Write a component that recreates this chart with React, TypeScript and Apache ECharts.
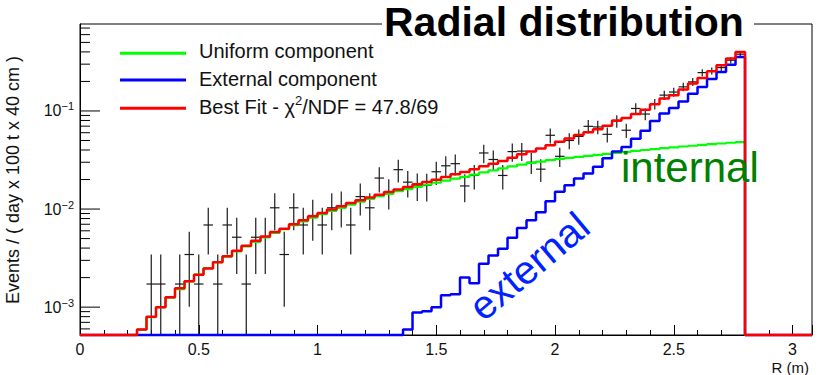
import React, { useEffect, useRef } from 'react';
import * as echarts from 'echarts';

const FONT = "'Liberation Sans', Arial, Helvetica, sans-serif";

// ---- axis settings ----
const BIN_WIDTH = 0.04; // m, 40 cm bins
const X_MIN = 0;
const X_MAX = 3.082;
const Y_MIN = 5.2e-4;
const Y_MAX = 0.77;

const xTickInterval = 0.5;
const yMajorTicks = [1e-3, 1e-2, 1e-1];
const yMajorExponents = ['\u22123', '\u22122', '\u22121'];
const yMinorTicks = [
  6e-4, 7e-4, 8e-4, 9e-4,
  2e-3, 3e-3, 4e-3, 5e-3, 6e-3, 7e-3, 8e-3, 9e-3,
  2e-2, 3e-2, 4e-2, 5e-2, 6e-2, 7e-2, 8e-2, 9e-2,
  0.2, 0.3, 0.4, 0.5, 0.6, 0.7,
];

// ---- series names ----
const uniformName = 'Uniform component';
const externalName = 'External component';
const bestFitName = 'Best Fit - \u03c72/NDF = 47.8/69';

// ---- fit histograms, one value per 0.04 m bin (bins 0..69, 0 = below axis) ----
const uniformFit = [
  0, 0, 0, 0, 0, 0,
  5.9e-4, 7.9e-4, 1.0e-3, 1.25e-3, 1.53e-3, 1.83e-3, 2.15e-3, 2.5e-3, 2.88e-3, 3.28e-3,
  3.7e-3, 4.15e-3, 4.63e-3, 5.15e-3, 5.7e-3, 6.25e-3, 6.85e-3, 7.5e-3, 8.15e-3, 8.85e-3,
  9.6e-3, 1.03e-2, 1.11e-2, 1.19e-2, 1.27e-2, 1.35e-2, 1.43e-2, 1.52e-2, 1.6e-2, 1.68e-2,
  1.77e-2, 1.86e-2, 1.95e-2, 2.04e-2, 2.13e-2, 2.24e-2, 2.36e-2, 2.48e-2, 2.6e-2, 2.72e-2,
  2.84e-2, 2.95e-2, 3.05e-2, 3.15e-2, 3.24e-2, 3.32e-2, 3.4e-2, 3.48e-2, 3.56e-2, 3.65e-2,
  3.74e-2, 3.83e-2, 3.92e-2, 4.0e-2, 4.08e-2, 4.17e-2, 4.25e-2, 4.34e-2, 4.42e-2, 4.5e-2,
  4.58e-2, 4.66e-2, 4.74e-2, 4.82e-2,
];

const externalFit = [
  0, 0, 0, 0, 0, 0, 0, 0, 0, 0,
  0, 0, 0, 0, 0, 0, 0, 0, 0, 0,
  0, 0, 0, 0, 0, 0, 0, 0, 0, 0,
  0, 0, 0, 0,
  5.9e-4, 8.8e-4, 9.1e-4, 1.0e-3, 1.32e-3, 1.35e-3,
  2.0e-3, 1.75e-3, 2.77e-3, 3.37e-3, 3.94e-3, 5.1e-3, 6.4e-3, 7.7e-3, 9.3e-3, 1.2e-2,
  1.5e-2, 1.75e-2, 2.05e-2, 2.3e-2, 2.7e-2, 3.3e-2, 3.85e-2, 4.3e-2, 5.2e-2, 6.3e-2,
  7.9e-2, 9.4e-2, 0.107, 0.125, 0.15, 0.175, 0.212, 0.25, 0.295, 0.355,
];

const bestFit = [
  0, 0, 0, 0, 0, 0,
  5.9e-4, 8.0e-4, 1.0e-3, 1.26e-3, 1.56e-3, 1.84e-3, 2.14e-3, 2.48e-3, 2.87e-3, 3.3e-3,
  3.75e-3, 4.22e-3, 4.75e-3, 5.26e-3, 5.82e-3, 6.3e-3, 6.98e-3, 7.67e-3, 8.43e-3, 9.12e-3,
  9.9e-3, 1.07e-2, 1.15e-2, 1.23e-2, 1.31e-2, 1.4e-2, 1.49e-2, 1.58e-2, 1.68e-2, 1.79e-2,
  1.89e-2, 1.99e-2, 2.12e-2, 2.26e-2, 2.39e-2, 2.54e-2, 2.73e-2, 2.9e-2, 3.09e-2, 3.34e-2,
  3.62e-2, 3.85e-2, 4.15e-2, 4.48e-2, 4.85e-2, 5.25e-2, 5.7e-2, 6.05e-2, 6.5e-2, 7.05e-2,
  8.0e-2, 8.5e-2, 9.3e-2, 0.103, 0.117, 0.134, 0.145, 0.165, 0.19, 0.217,
  0.254, 0.292, 0.343, 0.398,
];

// ---- data points (per bin, null = no entry) and their errors ----
const dataValues = [
  null, null, null, null, null, null, null,
  1.72e-3, 1.72e-3, null, 1.72e-3, 3.44e-3, 1.72e-3, 6.88e-3, 1.72e-3, 6.88e-3, 5.16e-3, 1.72e-3, 5.16e-3, 5.16e-3,
  1.03e-2, 3.44e-3, 1.03e-2, 6.88e-3, 8.6e-3, 6.88e-3, 1.03e-2, 1.08e-2, 6.88e-3, 1.34e-2,
  1.03e-2, 2.07e-2, 1.5e-2, 2.52e-2, 1.88e-2, 1.76e-2, 1.74e-2, 2.4e-2, 2.76e-2, 2.9e-2,
  1.72e-2, 2.2e-2, 3.73e-2, 3.2e-2, 2.2e-2, 3.85e-2, 3.9e-2, 3.0e-2, 2.55e-2, 5.65e-2,
  3.45e-2, 5.0e-2, 5.5e-2, 6.97e-2, 6.87e-2, 5.78e-2, 7.9e-2, 6.36e-2, 0.106, 0.093,
  0.118, 0.145, 0.156, 0.176, 0.198, 0.246, 0.256, 0.277, 0.329, 0.379,
];

const dataErrors = [
  null, null, null, null, null, null, null,
  1.72e-3, 1.72e-3, null, 1.72e-3, 2.43e-3, 1.72e-3, 3.44e-3, 1.72e-3, 3.44e-3, 2.98e-3, 1.72e-3, 2.98e-3, 2.98e-3,
  4.21e-3, 2.43e-3, 4.21e-3, 3.44e-3, 3.85e-3, 3.44e-3, 4.21e-3, 4.31e-3, 3.44e-3, 4.8e-3,
  4.21e-3, 5.97e-3, 5.08e-3, 6.58e-3, 5.69e-3, 5.5e-3, 5.47e-3, 6.42e-3, 6.89e-3, 7.06e-3,
  5.44e-3, 6.15e-3, 8.01e-3, 7.42e-3, 6.15e-3, 8.14e-3, 8.19e-3, 7.18e-3, 6.62e-3, 9.86e-3,
  7.7e-3, 9.27e-3, 9.73e-3, 1.095e-2, 1.087e-2, 9.97e-3, 1.166e-2, 1.046e-2, 1.35e-2, 1.265e-2,
  1.425e-2, 1.579e-2, 1.638e-2, 1.74e-2, 1.845e-2, 2.057e-2, 2.098e-2, 2.183e-2, 2.379e-2, 2.553e-2,
];

// ---- build step-histogram points (bin low edge, value), floor below axis ----
function stepPoints(values: number[]) {
  const pts: number[][] = values.map((v, i) => [i * BIN_WIDTH, Math.max(v, Y_MIN)]);
  pts.push([values.length * BIN_WIDTH, Y_MIN]);
  pts.push([X_MAX, Y_MIN]);
  return pts;
}

const pointData: number[][] = [];
dataValues.forEach((v, i) => {
  const e = dataErrors[i];
  if (v != null && e != null) {
    pointData.push([(i + 0.5) * BIN_WIDTH, v, e, i * BIN_WIDTH, (i + 1) * BIN_WIDTH]);
  }
});

const tickData: { v: number; major: boolean; label: string }[] = [
  ...yMajorTicks.map((v, i) => ({ v, major: true, label: yMajorExponents[i] })),
  ...yMinorTicks.map((v) => ({ v, major: false, label: '' })),
];

const option: any = {
  animation: false,
  backgroundColor: '#ffffff',
  textStyle: { fontFamily: FONT },
  grid: {
    left: 80,
    right: 8,
    top: 24,
    bottom: 40,
    show: true,
    borderColor: '#000',
    borderWidth: 1,
    containLabel: false,
    outerBoundsMode: 'none',
  },
  xAxis: {
    type: 'value',
    min: X_MIN,
    max: X_MAX,
    interval: xTickInterval,
    axisLine: { show: true, lineStyle: { color: '#000', width: 1 } },
    axisTick: { show: true, inside: true, length: 10, lineStyle: { color: '#000', width: 1 } },
    minorTick: { show: true, splitNumber: 5, length: 5, lineStyle: { color: '#000', width: 1 } },
    axisLabel: {
      show: true,
      color: '#111',
      fontSize: 16,
      fontFamily: FONT,
      margin: 6,
      showMaxLabel: false,
      showMinLabel: true,
    },
    splitLine: { show: false },
    minorSplitLine: { show: false },
  },
  yAxis: {
    type: 'log',
    logBase: 10,
    min: Y_MIN,
    max: Y_MAX,
    axisLine: { show: true, lineStyle: { color: '#000', width: 1 } },
    axisTick: { show: false },
    axisLabel: { show: false },
    splitLine: { show: false },
    minorTick: { show: false },
  },
  series: [
    {
      type: 'custom',
      name: 'yTicks',
      silent: true,
      clip: false,
      data: tickData.map((t) => [X_MIN, t.v]),
      encode: { x: 0, y: 1 },
      z: 5,
      renderItem: (params: any, api: any) => {
        const t = tickData[params.dataIndex];
        const p = api.coord([X_MIN, api.value(1)]);
        const len = t.major ? 20 : 10;
        const children: any[] = [
          {
            type: 'line',
            shape: { x1: p[0], y1: p[1], x2: p[0] + len, y2: p[1] },
            style: { stroke: '#000', lineWidth: 1 },
          },
        ];
        if (t.major) {
          children.push({
            type: 'text',
            x: p[0] - 6,
            y: p[1],
            style: {
              text: `{b|10}{s|${t.label}}`,
              fill: '#111',
              fontFamily: FONT,
              fontSize: 16,
              align: 'right',
              textAlign: 'right',
              verticalAlign: 'middle',
              textVerticalAlign: 'middle',
              rich: {
                b: { fontSize: 16, fontFamily: FONT, lineHeight: 20, fill: '#111' },
                s: { fontSize: 11, fontFamily: FONT, lineHeight: 11, verticalAlign: 'top', fill: '#111' },
              },
            },
          });
        }
        return { type: 'group', children };
      },
    },
    {
      type: 'custom',
      name: 'Data',
      silent: true,
      clip: false,
      data: pointData,
      encode: { x: 0, y: 1 },
      renderItem: (params: any, api: any) => {
        const x = api.value(0);
        const v = api.value(1);
        const e = api.value(2);
        const xl = api.value(3);
        const xh = api.value(4);
        const top = api.coord([x, Math.min(v + e, Y_MAX)]);
        const bot = api.coord([x, Math.max(v - e, Y_MIN)]);
        const l = api.coord([xl, v]);
        const r = api.coord([xh, v]);
        const st = { stroke: '#1a1a1a', lineWidth: 1.2 };
        return {
          type: 'group',
          children: [
            { type: 'line', shape: { x1: top[0], y1: top[1], x2: bot[0], y2: bot[1] }, style: st },
            { type: 'line', shape: { x1: l[0], y1: l[1], x2: r[0], y2: r[1] }, style: st },
          ],
        };
      },
    },
    {
      type: 'line',
      name: uniformName,
      data: stepPoints(uniformFit),
      step: 'end',
      showSymbol: false,
      symbol: 'none',
      clip: false,
      silent: true,
      lineStyle: { color: '#00ff00', width: 2.2 },
      itemStyle: { color: '#00ff00' },
    },
    {
      type: 'line',
      name: externalName,
      data: stepPoints(externalFit),
      step: 'end',
      showSymbol: false,
      symbol: 'none',
      clip: false,
      silent: true,
      lineStyle: { color: '#0000ff', width: 2.5 },
      itemStyle: { color: '#0000ff' },
    },
    {
      type: 'line',
      name: bestFitName,
      data: stepPoints(bestFit),
      step: 'end',
      showSymbol: false,
      symbol: 'none',
      clip: false,
      silent: true,
      lineStyle: { color: '#ff0000', width: 2.5 },
      itemStyle: { color: '#ff0000' },
    },
  ],
  graphic: [
    // title box covering the frame
    {
      type: 'group',
      z: 100,
      children: [
        { type: 'rect', shape: { x: 382, y: 0, width: 372, height: 40 }, style: { fill: '#ffffff' } },
        {
          type: 'text',
          x: 384,
          y: 21.5,
          style: {
            text: 'Radial distribution',
            fill: '#000',
            fontSize: 41,
            fontWeight: 'bold',
            fontFamily: FONT,
            align: 'left',
            textAlign: 'left',
            verticalAlign: 'middle',
            textVerticalAlign: 'middle',
          },
        },
      ],
    },
    // legend
    {
      type: 'group',
      z: 100,
      children: [
        { type: 'line', shape: { x1: 120, y1: 53.3, x2: 186, y2: 53.3 }, style: { stroke: '#00ff00', lineWidth: 3 } },
        { type: 'line', shape: { x1: 120, y1: 80, x2: 186, y2: 80 }, style: { stroke: '#0000ff', lineWidth: 3 } },
        { type: 'line', shape: { x1: 120, y1: 108.3, x2: 186, y2: 108.3 }, style: { stroke: '#ff0000', lineWidth: 3 } },
        {
          type: 'text', x: 199, y: 51.4,
          style: { text: uniformName, fill: '#111', fontSize: 20, fontFamily: FONT, align: 'left', textAlign: 'left', verticalAlign: 'middle', textVerticalAlign: 'middle' },
        },
        {
          type: 'text', x: 199, y: 79,
          style: { text: externalName, fill: '#111', fontSize: 20, fontFamily: FONT, align: 'left', textAlign: 'left', verticalAlign: 'middle', textVerticalAlign: 'middle' },
        },
        {
          type: 'text', x: 199, y: 106.5,
          style: {
            text: '{n|Best Fit - \u03c7}{s|2}{n|/NDF = 47.8/69}',
            fill: '#111', fontSize: 20, fontFamily: FONT,
            align: 'left', textAlign: 'left', verticalAlign: 'middle', textVerticalAlign: 'middle',
            rich: {
              n: { fontSize: 20, fontFamily: FONT, lineHeight: 26, fill: '#111' },
              s: { fontSize: 13, fontFamily: FONT, lineHeight: 13, verticalAlign: 'top', fill: '#111' },
            },
          },
        },
      ],
    },
    // axis titles
    {
      type: 'text',
      x: 13,
      y: 180,
      rotation: Math.PI / 2,
      z: 100,
      style: {
        text: 'Events / ( day x 100 t x 40 cm )',
        fill: '#111', fontSize: 18, fontFamily: FONT,
        align: 'center', textAlign: 'center', verticalAlign: 'middle', textVerticalAlign: 'middle',
      },
    },
    {
      type: 'text',
      x: 809,
      y: 367,
      z: 100,
      style: {
        text: 'R (m)',
        fill: '#111', fontSize: 15, fontFamily: FONT,
        align: 'right', textAlign: 'right', verticalAlign: 'middle', textVerticalAlign: 'middle',
      },
    },
    // annotations
    {
      type: 'text',
      x: 621,
      y: 167,
      z: 100,
      style: {
        text: 'internal',
        fill: '#008000', fontSize: 42, fontFamily: FONT,
        align: 'left', textAlign: 'left', verticalAlign: 'middle', textVerticalAlign: 'middle',
      },
    },
    {
      type: 'text',
      x: 529,
      y: 266,
      rotation: 0.70,
      z: 100,
      style: {
        text: 'external',
        fill: '#0022ff', fontSize: 40, fontFamily: FONT,
        align: 'center', textAlign: 'center', verticalAlign: 'middle', textVerticalAlign: 'middle',
      },
    },
  ],
};

export default function App() {
  const ref = useRef<HTMLDivElement>(null);
  useEffect(() => {
    if (!ref.current) return;
    const chart = echarts.init(ref.current, undefined, { renderer: 'svg', width: 820, height: 375 });
    chart.setOption(option);
    return () => {
      chart.dispose();
    };
  }, []);
  return (
    <div
      ref={ref}
      style={{ position: 'fixed', left: 0, top: 0, width: 820, height: 375, background: '#ffffff' }}
    />
  );
}
